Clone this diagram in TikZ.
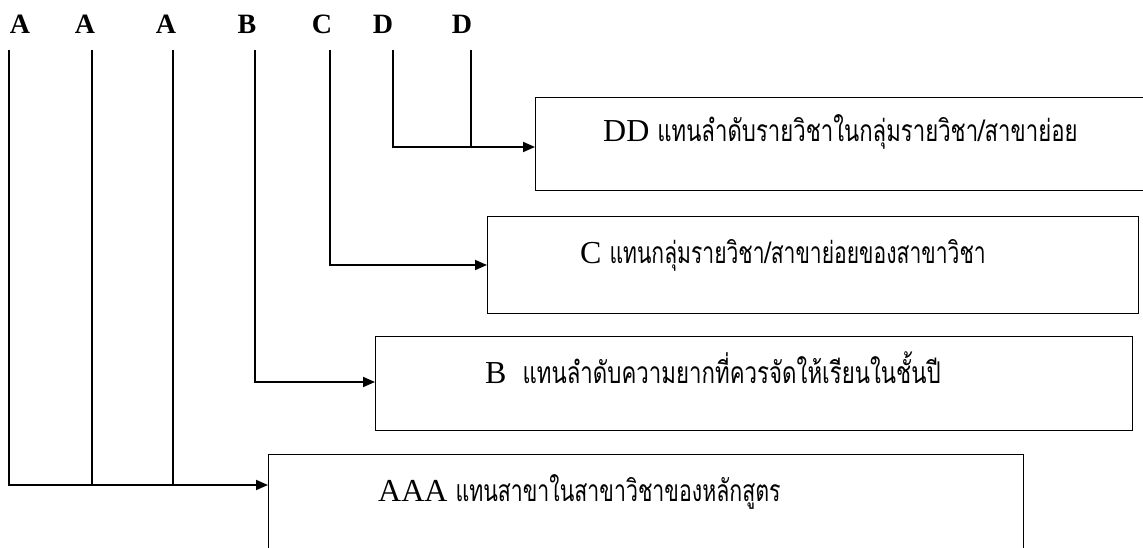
\documentclass[tikz,border=0pt]{standalone}
\usepackage{fontspec}
\usepackage{graphicx}
\setmainfont{Liberation Serif}
\newfontfamily\thaifont[Script=Thai]{Loma}
\usetikzlibrary{arrows.meta,calc}
\newcommand{\thaiw}[2]{\resizebox{#1}{\height}{\fontsize{30}{32}\thaifont #2}}
\tikzset{
  box/.style={draw,line width=1.3pt,inner sep=0pt,anchor=north west,minimum width=#1},
  conn/.style={line width=1.8pt},
  arr/.style={line width=1.8pt,-{Triangle[length=12pt,width=10pt]}},
  letter/.style={font=\fontsize{28}{30}\selectfont\bfseries,inner sep=0pt},
  lbl/.style={anchor=base west,inner sep=0pt,font=\fontsize{32}{34}\selectfont}
}
\begin{document}
\begin{tikzpicture}[x=1pt,y=-1pt]
\useasboundingbox (0,0) rectangle (1143,548);
\clip (0,0) rectangle (1143,548);
% letters
\node[letter] (a1) at (20,24) {A};
\node[letter] (a2) at (85,24) {A};
\node[letter] (a3) at (166,24) {A};
\node[letter] (b1) at (247,24) {B};
\node[letter] (c1) at (322,24) {C};
\node[letter] (d1) at (383,24) {D};
\node[letter] (d2) at (462,24) {D};
% line tops
\coordinate (ta1) at (9,50);
\coordinate (ta2) at (92,50);
\coordinate (ta3) at (173,50);
\coordinate (tb) at (255,50);
\coordinate (tc) at (330,50);
\coordinate (td1) at (393,50);
\coordinate (td2) at (471,50);
% boxes
\node[box=620pt,minimum height=93pt] (dd) at (535,97) {};
\node[box=651pt,minimum height=97pt] (cc) at (487,216) {};
\node[box=757pt,minimum height=94pt] (bb) at (375,336) {};
\node[box=755pt,minimum height=130pt] (aa) at (268,454) {};
% labels
\node[lbl] (ddl) at (603,142) {DD \thaiw{420pt}{แทนลำดับรายวิชาในกลุ่มรายวิชา/สาขาย่อย}};
\node[lbl] (ccl) at (580,263) {C \thaiw{376pt}{แทนกลุ่มรายวิชา/สาขาย่อยของสาขาวิชา}};
\node[lbl] (bbl) at (485,383) {B\ \ \thaiw{418pt}{แทนลำดับความยากที่ควรจัดให้เรียนในชั้นปี}};
\node[lbl] (aal) at (378,501) {AAA \thaiw{325pt}{แทนสาขาในสาขาวิชาของหลักสูตร}};
% entry points
\coordinate (ddin) at ($(dd.north west)+(0,50)$);
\coordinate (ccin) at ($(cc.north west)+(0,49)$);
\coordinate (bbin) at ($(bb.north west)+(0,46)$);
\coordinate (aain) at ($(aa.north west)+(0,31)$);
% connectors
\draw[arr] (td1) |- (ddin);
\draw[conn] (td2) -- (td2 |- ddin);
\draw[arr] (tc) |- (ccin);
\draw[arr] (tb) |- (bbin);
\draw[arr] (ta1) |- (aain);
\draw[conn] (ta2) -- (ta2 |- aain);
\draw[conn] (ta3) -- (ta3 |- aain);
\end{tikzpicture}
\end{document}
